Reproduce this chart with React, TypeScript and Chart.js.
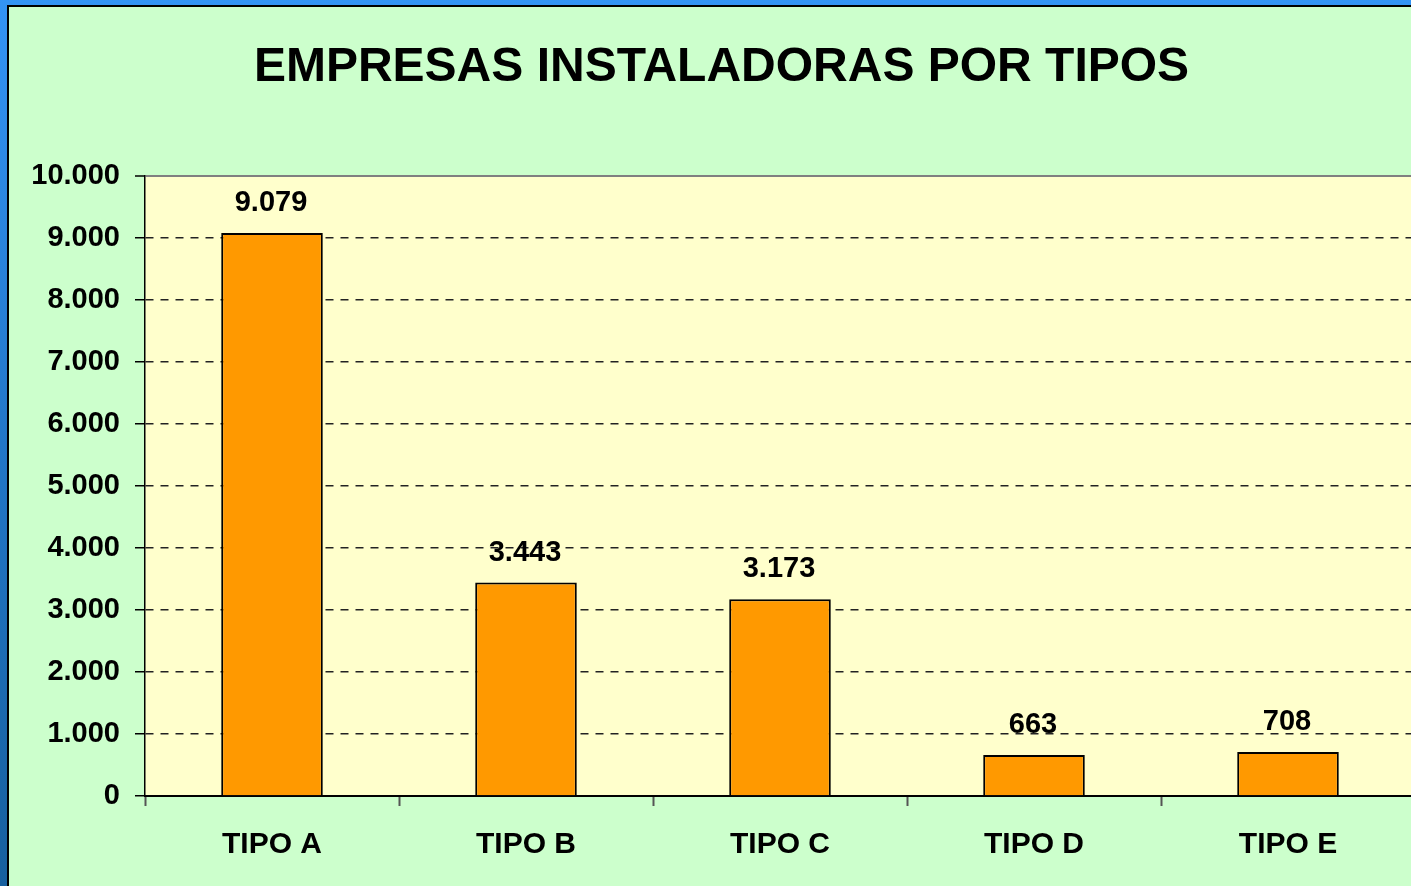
import React, { useEffect, useRef } from "react";
import { Chart, registerables } from "chart.js";

Chart.register(...registerables);

const categories = ["TIPO A", "TIPO B", "TIPO C", "TIPO D", "TIPO E"];
const empresas = [9079, 3443, 3173, 663, 708];
const titleText = "EMPRESAS INSTALADORAS POR TIPOS";
const yMax = 10000;
const yStep = 1000;

const FONT = '"Liberation Sans", Arial, Helvetica, sans-serif';

function fmt(v: number): string {
  return String(Math.round(v)).replace(/\B(?=(\d{3})+(?!\d))/g, ".");
}

const plotBg = {
  id: "plotBg",
  beforeDraw(chart: any) {
    const { ctx, chartArea } = chart;
    if (!chartArea) return;
    ctx.save();
    ctx.fillStyle = "#FFFFCC";
    ctx.fillRect(chartArea.left, chartArea.top, chartArea.right - chartArea.left, chartArea.bottom - chartArea.top);
    ctx.restore();
  },
};

const valueLabels = {
  id: "valueLabels",
  afterDatasetsDraw(chart: any) {
    const { ctx } = chart;
    const meta = chart.getDatasetMeta(0);
    const data = chart.data.datasets[0].data as number[];
    ctx.save();
    ctx.font = `bold 29px ${FONT}`;
    ctx.fillStyle = "#000";
    ctx.textAlign = "center";
    ctx.textBaseline = "middle";
    meta.data.forEach((el: any, i: number) => {
      ctx.fillText(fmt(data[i]), el.x - 1, el.y - 30);
    });
    ctx.restore();
  },
};

export default function App() {
  const ref = useRef<HTMLCanvasElement | null>(null);

  useEffect(() => {
    if (!ref.current) return;
    const chart = new Chart(ref.current, {
      type: "bar",
      data: {
        labels: categories,
        datasets: [
          {
            label: "Empresas",
            data: empresas,
            backgroundColor: "#FF9900",
            borderColor: "#000000",
            borderWidth: 2,
            barPercentage: 0.4,
            categoryPercentage: 1,
          },
        ],
      },
      options: {
        responsive: false,
        animation: false,
        layout: { padding: { left: 18, top: 32, right: 0, bottom: 0 } },
        plugins: {
          legend: { display: false },
          tooltip: { enabled: false },
          title: {
            display: true,
            text: titleText,
            color: "#000",
            font: { family: FONT, size: 48, weight: "bold" },
            padding: { top: 0, bottom: 79.4 },
          },
        },
        scales: {
          x: {
            grid: {
              offset: true,
              drawOnChartArea: false,
              drawTicks: true,
              tickLength: 10,
              tickColor: "#555",
              tickWidth: 2,
            },
            border: { display: true, color: "#000", width: 2 },
            ticks: {
              color: "#000",
              padding: 21,
              font: { family: FONT, size: 30, weight: "bold" },
            },
            afterFit: (s: any) => {
              s.height = 90;
            },
          },
          y: {
            min: 0,
            max: yMax,
            grid: {
              color: (c: any) => {
                const v = c.tick ? c.tick.value : -1;
                if (v === yMax) return "#808080";
                if (v === 0) return "rgba(0,0,0,0)";
                return "#222";
              },
              lineWidth: (c: any) => (c.tick && c.tick.value === yMax ? 2 : 1.5),
              tickColor: "#000",
              tickWidth: 1.5,
              tickLength: 10,
              tickBorderDash: [],
            },
            border: {
              display: true,
              color: "#000",
              width: 1.5,
              dash: (c: any) => (c.tick && c.tick.value === yMax ? [] : [8, 7]),
            },
            ticks: {
              stepSize: yStep,
              color: "#000",
              padding: 15,
              font: { family: FONT, size: 29, weight: "bold" },
              callback: (v: any) => fmt(Number(v)),
            },
            afterFit: (s: any) => {
              s.width = 117;
            },
          },
        },
      },
      plugins: [plotBg, valueLabels],
    });
    return () => chart.destroy();
  }, []);

  return (
    <div
      style={{
        position: "fixed",
        left: 0,
        top: 0,
        width: 1411,
        height: 886,
        overflow: "hidden",
        background: "linear-gradient(180deg, #3394F5 0%, #2277C8 50%, #17609E 100%)",
      }}
    >
      <div
        style={{
          position: "absolute",
          left: 7,
          top: 5,
          width: 1420,
          height: 900,
          borderLeft: "2px solid #000",
          borderTop: "2px solid #000",
          background: "#CCFFCC",
        }}
      >
        <canvas
          ref={ref}
          width={1405}
          height={879}
          style={{ position: "absolute", left: 1, top: 0, width: 1405, height: 879 }}
        />
      </div>
    </div>
  );
}
